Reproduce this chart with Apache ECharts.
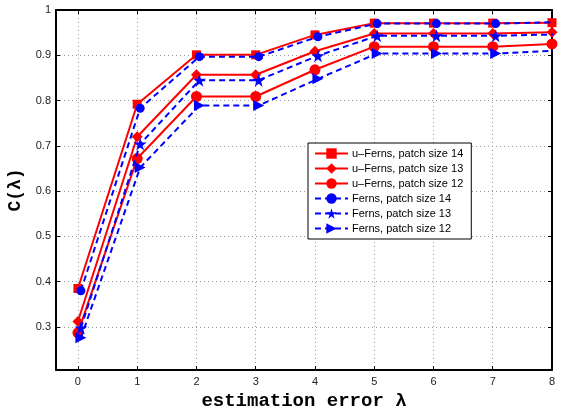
<!DOCTYPE html>
<html>
<head>
<meta charset="utf-8">
<script src="https://cdn.jsdelivr.net/npm/echarts@6/dist/echarts.min.js"></script>
<style>
  html, body { margin: 0; padding: 0; background: #fff; }
  #chart { width: 567px; height: 406px; }
</style>
</head>
<body>
<div id="chart"></div>
<script>
// estimation error values (blue curves are drawn a little shifted to the right)
const errRed = [0, 1, 2, 3, 4, 5, 6, 7, 8];
const errBlue = [0.05, 1.05, 2.05, 3.05, 4.05, 5.05, 6.05, 7.05, 8.05];

const uFerns14 = [0.385, 0.792, 0.901, 0.901, 0.945, 0.971, 0.971, 0.971, 0.972];
const uFerns13 = [0.312, 0.720, 0.857, 0.857, 0.909, 0.948, 0.948, 0.948, 0.951];
const uFerns12 = [0.287, 0.672, 0.809, 0.809, 0.868, 0.919, 0.919, 0.919, 0.925];
const ferns14 = [0.380, 0.783, 0.897, 0.897, 0.941, 0.970, 0.970, 0.970, 0.973];
const ferns13 = [0.298, 0.704, 0.845, 0.845, 0.899, 0.943, 0.943, 0.943, 0.946];
const ferns12 = [0.276, 0.652, 0.789, 0.789, 0.848, 0.904, 0.904, 0.904, 0.910];

const names = [
  'u–Ferns, patch size 14',
  'u–Ferns, patch size 13',
  'u–Ferns, patch size 12',
  'Ferns, patch size 14',
  'Ferns, patch size 13',
  'Ferns, patch size 12'
];

const xTicks = [0, 1, 2, 3, 4, 5, 6, 7, 8];
const yTicks = [0.3, 0.4, 0.5, 0.6, 0.7, 0.8, 0.9, 1];

const X_MIN = -0.37, X_MAX = 8;
const Y_MIN = 0.205, Y_MAX = 1;

const STAR = 'path://M50,0 L61,35 L98,35 L68,57 L79,91 L50,70 L21,91 L32,57 L2,35 L39,35 Z';
const TRI_RIGHT = 'path://M0,0 L100,50 L0,100 Z';

const RED = '#ff0000';
const BLUE = '#0000ff';

const pairs = (xs, ys) => xs.map((x, i) => [x, ys[i]]);

const mkSeries = (name, xs, ys, color, dashed, symbol, size) => ({
  name: name,
  type: 'line',
  data: pairs(xs, ys),
  symbol: symbol,
  symbolSize: size,
  showAllSymbol: true,
  clip: true,
  lineStyle: { color: color, width: 2, type: dashed ? [6, 4] : 'solid' },
  itemStyle: { color: color, borderWidth: 0 },
  emphasis: { disabled: true },
  z: dashed ? 3 : 2
});

const gridLine = { show: true, lineStyle: { color: '#999', type: [1, 3], width: 1 } };
const axisFont = { fontFamily: 'Liberation Sans, Arial', fontSize: 11, color: '#222' };
const titleFont = { fontFamily: 'Liberation Mono, Courier New', fontWeight: 'bold', color: '#000' };

const chart = echarts.init(document.getElementById('chart'));
chart.setOption({
  animation: false,
  backgroundColor: '#fff',
  grid: { left: 56, right: 15, top: 10, bottom: 36, containLabel: false, outerBoundsMode: 'none' },
  legend: {
    data: names,
    orient: 'vertical',
    left: 308,
    top: 143,
    padding: [5, 8, 5, 6],
    itemWidth: 33,
    itemHeight: 13,
    itemGap: 4,
    backgroundColor: '#fff',
    borderColor: '#000',
    borderWidth: 1,
    textStyle: { fontFamily: 'Liberation Sans, Arial', fontSize: 11, color: '#000', padding: [0, 0, 0, -1] }
  },
  xAxis: [
    {
      type: 'value', min: X_MIN, max: X_MAX,
      name: 'estimation error λ', nameLocation: 'middle', nameGap: 20,
      nameTextStyle: Object.assign({ fontSize: 19 }, titleFont),
      axisLine: { show: true, onZero: false, lineStyle: { color: '#000', width: 2 } },
      axisTick: { show: true, inside: true, length: 4, customValues: xTicks, lineStyle: { color: '#000' } },
      axisLabel: Object.assign({ margin: 6, customValues: xTicks }, axisFont),
      splitLine: gridLine
    },
    {
      type: 'value', min: X_MIN, max: X_MAX, position: 'top',
      axisLine: { show: true, onZero: false, lineStyle: { color: '#000', width: 2 } },
      axisTick: { show: true, inside: true, length: 4, customValues: xTicks, lineStyle: { color: '#000' } },
      axisLabel: { show: false },
      splitLine: { show: false }
    }
  ],
  yAxis: [
    {
      type: 'value', min: Y_MIN, max: Y_MAX,
      name: 'C(λ)', nameLocation: 'middle', nameGap: 31, nameRotate: 90,
      nameTextStyle: Object.assign({ fontSize: 18 }, titleFont),
      axisLine: { show: true, onZero: false, lineStyle: { color: '#000', width: 2 } },
      axisTick: { show: true, inside: true, length: 4, customValues: yTicks, lineStyle: { color: '#000' } },
      axisLabel: Object.assign({ margin: 5, customValues: yTicks, formatter: v => String(+v.toFixed(1)) }, axisFont),
      splitLine: gridLine
    },
    {
      type: 'value', min: Y_MIN, max: Y_MAX, position: 'right',
      axisLine: { show: true, onZero: false, lineStyle: { color: '#000', width: 2 } },
      axisTick: { show: true, inside: true, length: 4, customValues: yTicks, lineStyle: { color: '#000' } },
      axisLabel: { show: false },
      splitLine: { show: false }
    }
  ],
  series: [
    mkSeries(names[0], errRed, uFerns14, RED, false, 'rect', 9),
    mkSeries(names[1], errRed, uFerns13, RED, false, 'diamond', 11),
    mkSeries(names[2], errRed, uFerns12, RED, false, 'circle', 11),
    mkSeries(names[3], errBlue, ferns14, BLUE, true, 'circle', 9),
    mkSeries(names[4], errBlue, ferns13, BLUE, true, STAR, 13),
    mkSeries(names[5], errBlue, ferns12, BLUE, true, TRI_RIGHT, 11)
  ]
});
</script>
</body>
</html>
